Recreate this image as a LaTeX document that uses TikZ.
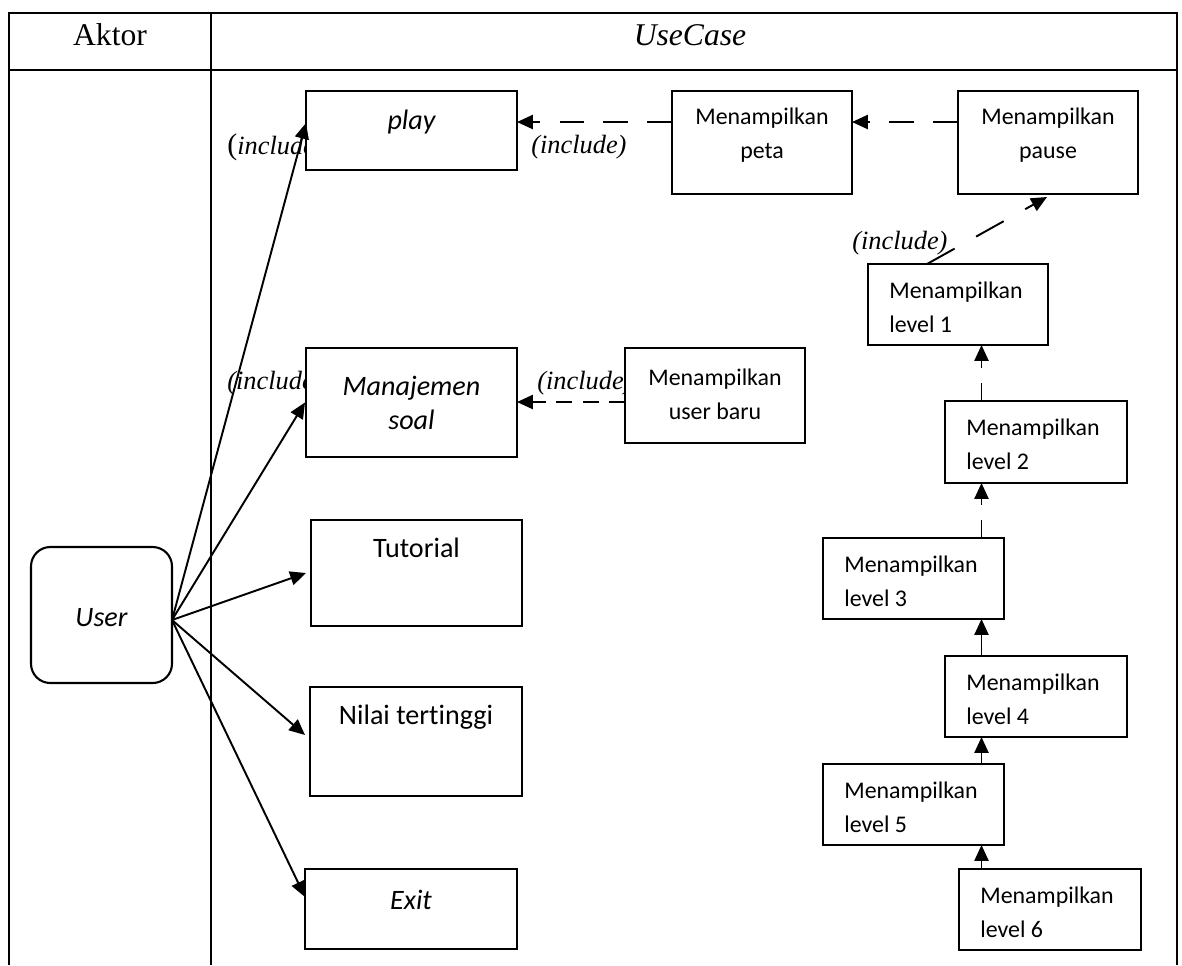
\documentclass[tikz,border=0pt]{standalone}
\usepackage{fontspec}
\setmainfont{Liberation Serif}
\newfontfamily\carl[Ligatures={NoCommon}]{Carlito}
\usetikzlibrary{arrows.meta,calc,fit}
\begin{document}
\begin{tikzpicture}[x=0.02cm,y=-0.02cm,
  gridline/.style={line width=0.6pt},
  box/.style={draw, line width=1.2pt, fill=white, inner sep=0pt, outer sep=0pt},
  actorbox/.style={box, rounded corners=11pt},
  bigtxt/.style={font=\carl\fontsize{16}{17.6}\selectfont, inner sep=0pt, align=center},
  smalltxt/.style={font=\carl\fontsize{13.6}{19.1}\selectfont, inner sep=0pt},
  headtxt/.style={font=\fontsize{18}{20}\selectfont, inner sep=0pt},
  inctxt/.style={font=\fontsize{15}{17}\selectfont\itshape, inner sep=0pt, anchor=west},
  tiphead/.style={-{Triangle[length=9pt,width=8pt]}},
  assoc/.style={tiphead, line width=1.1pt},
  incllong/.style={tiphead, line width=1.1pt, dash pattern=on 14pt off 11pt},
  inclshort/.style={tiphead, line width=1.1pt, dash pattern=on 9pt off 6pt},
  incldiag/.style={tiphead, line width=1.1pt, dash pattern=on 18pt off 14pt},
  inclvert/.style={tiphead, line width=1.1pt, dash pattern=on 10pt off 9pt}
]
\useasboundingbox (0,0) rectangle (1182,965);

% table frame
\draw[gridline] (9,965) -- (9,13) -- (1177,13) -- (1177,965);
\draw[gridline] (211,13) -- (211,965);
\draw[gridline] (9,70) -- (1177,70);
\node[headtxt] (hAktor) at (110,35) {Aktor};
\node[headtxt] (hUse) at (690,35) {\itshape UseCase};

% include labels (partly hidden behind the boxes)
\node[inctxt] (inc1) at (227,147) {{\upshape\fontsize{17}{17}\selectfont(}include)};
\node[inctxt] (inc2) at (531,147) {(include)};
\node[inctxt] (inc3) at (227,383) {(include)};
\node[inctxt] (inc4) at (537,383) {(include)};
\node[inctxt] (inc5) at (852,243) {(include)};

% actor
\node[actorbox, fit={(31,547) (172,683)}] (user) {};
\node[bigtxt] (userT) at ($(user.center)+(0,3)$) {\itshape User};

% main use cases
\node[box, fit={(306,91) (517,170)}] (play) {};
\node[bigtxt] (playT) at ($(play.north)+(0,31)$) {\itshape play};
\node[box, fit={(306,348) (517,457)}] (manaj) {};
\node[bigtxt] (manajT) at ($(manaj.north)+(0,55)$) {\itshape Manajemen\\[2pt]\itshape soal};
\node[box, fit={(311,520) (522,626)}] (tut) {};
\node[bigtxt] (tutT) at ($(tut.north)+(0,28)$) {Tutorial};
\node[box, fit={(310,687) (522,796)}] (nilai) {};
\node[bigtxt] (nilaiT) at ($(nilai.north)+(0,30)$) {Nilai tertinggi};
\node[box, fit={(305,869) (517,949)}] (exit) {};
\node[bigtxt] (exitT) at ($(exit.north)+(0,31)$) {\itshape Exit};

% included use cases
\node[box, fit={(672,91) (852,194)}] (peta) {};
\node[smalltxt, align=center] (petaT) at ($(peta.north)+(0,44)$) {Menampilkan\\peta};
\node[box, fit={(958,91) (1138,194)}] (pause) {};
\node[smalltxt, align=center] (pauseT) at ($(pause.north)+(0,44)$) {Menampilkan\\pause};
\node[box, fit={(625,348) (805,443)}] (baru) {};
\node[smalltxt, align=center] (baruT) at ($(baru.north)+(0,46)$) {Menampilkan\\user baru};

% level chain
\node[box, fit={(868,264) (1048,345)}] (l1) {};
\node[box, fit={(945,401) (1127,483)}] (l2) {};
\node[box, fit={(823,538) (1004,619)}] (l3) {};
\node[box, fit={(945,656) (1127,737)}] (l4) {};
\node[box, fit={(823,764) (1004,845)}] (l5) {};
\node[box, fit={(959,869) (1141,950)}] (l6) {};
\foreach \b/\n in {l1/1,l2/2,l3/3,l4/4,l5/5,l6/6}
  \node[smalltxt, align=left, anchor=west] (\b T) at ($(\b.north west)+(21,43)$) {Menampilkan\\level \n};

% actor associations
\coordinate (fan) at ($(user.east)+(0,5)$);
\draw[assoc] (fan) -- ($(play.west)+(0,-7.5)$);
\draw[assoc] (fan) -- ($(manaj.west)+(-1,0)$);
\draw[assoc] (fan) -- ($(tut.west)+(-5,0)$);
\draw[assoc] (fan) -- ($(nilai.west)+(-5,-6.5)$);
\draw[assoc] (fan) -- ($(exit.west)+(0,-12)$);

% include relations
\coordinate (rowA) at (0,122);
\coordinate (rowB) at (0,402);
\draw[incllong] (peta.west |- rowA) -- (play.east |- rowA);
\draw[incllong] (pause.west |- rowA) -- (peta.east |- rowA);
\draw[inclshort] (baru.west |- rowB) -- (manaj.east |- rowB);
\draw[incldiag] ($(l1.north)+(-31,0)$) -- ($(pause.south)+(-1,3)$);

% level progression
\coordinate (stem) at (981.5,0);
\draw[assoc] (l6.north -| stem) -- (l5.south -| stem);
\draw[assoc] (l5.north -| stem) -- (l4.south -| stem);
\draw[assoc] (l4.north -| stem) -- (l3.south -| stem);
\draw[inclvert] (l3.north -| stem) -- (l2.south -| stem);
\draw[inclvert] (l2.north -| stem) -- (l1.south -| stem);
\end{tikzpicture}
\end{document}
